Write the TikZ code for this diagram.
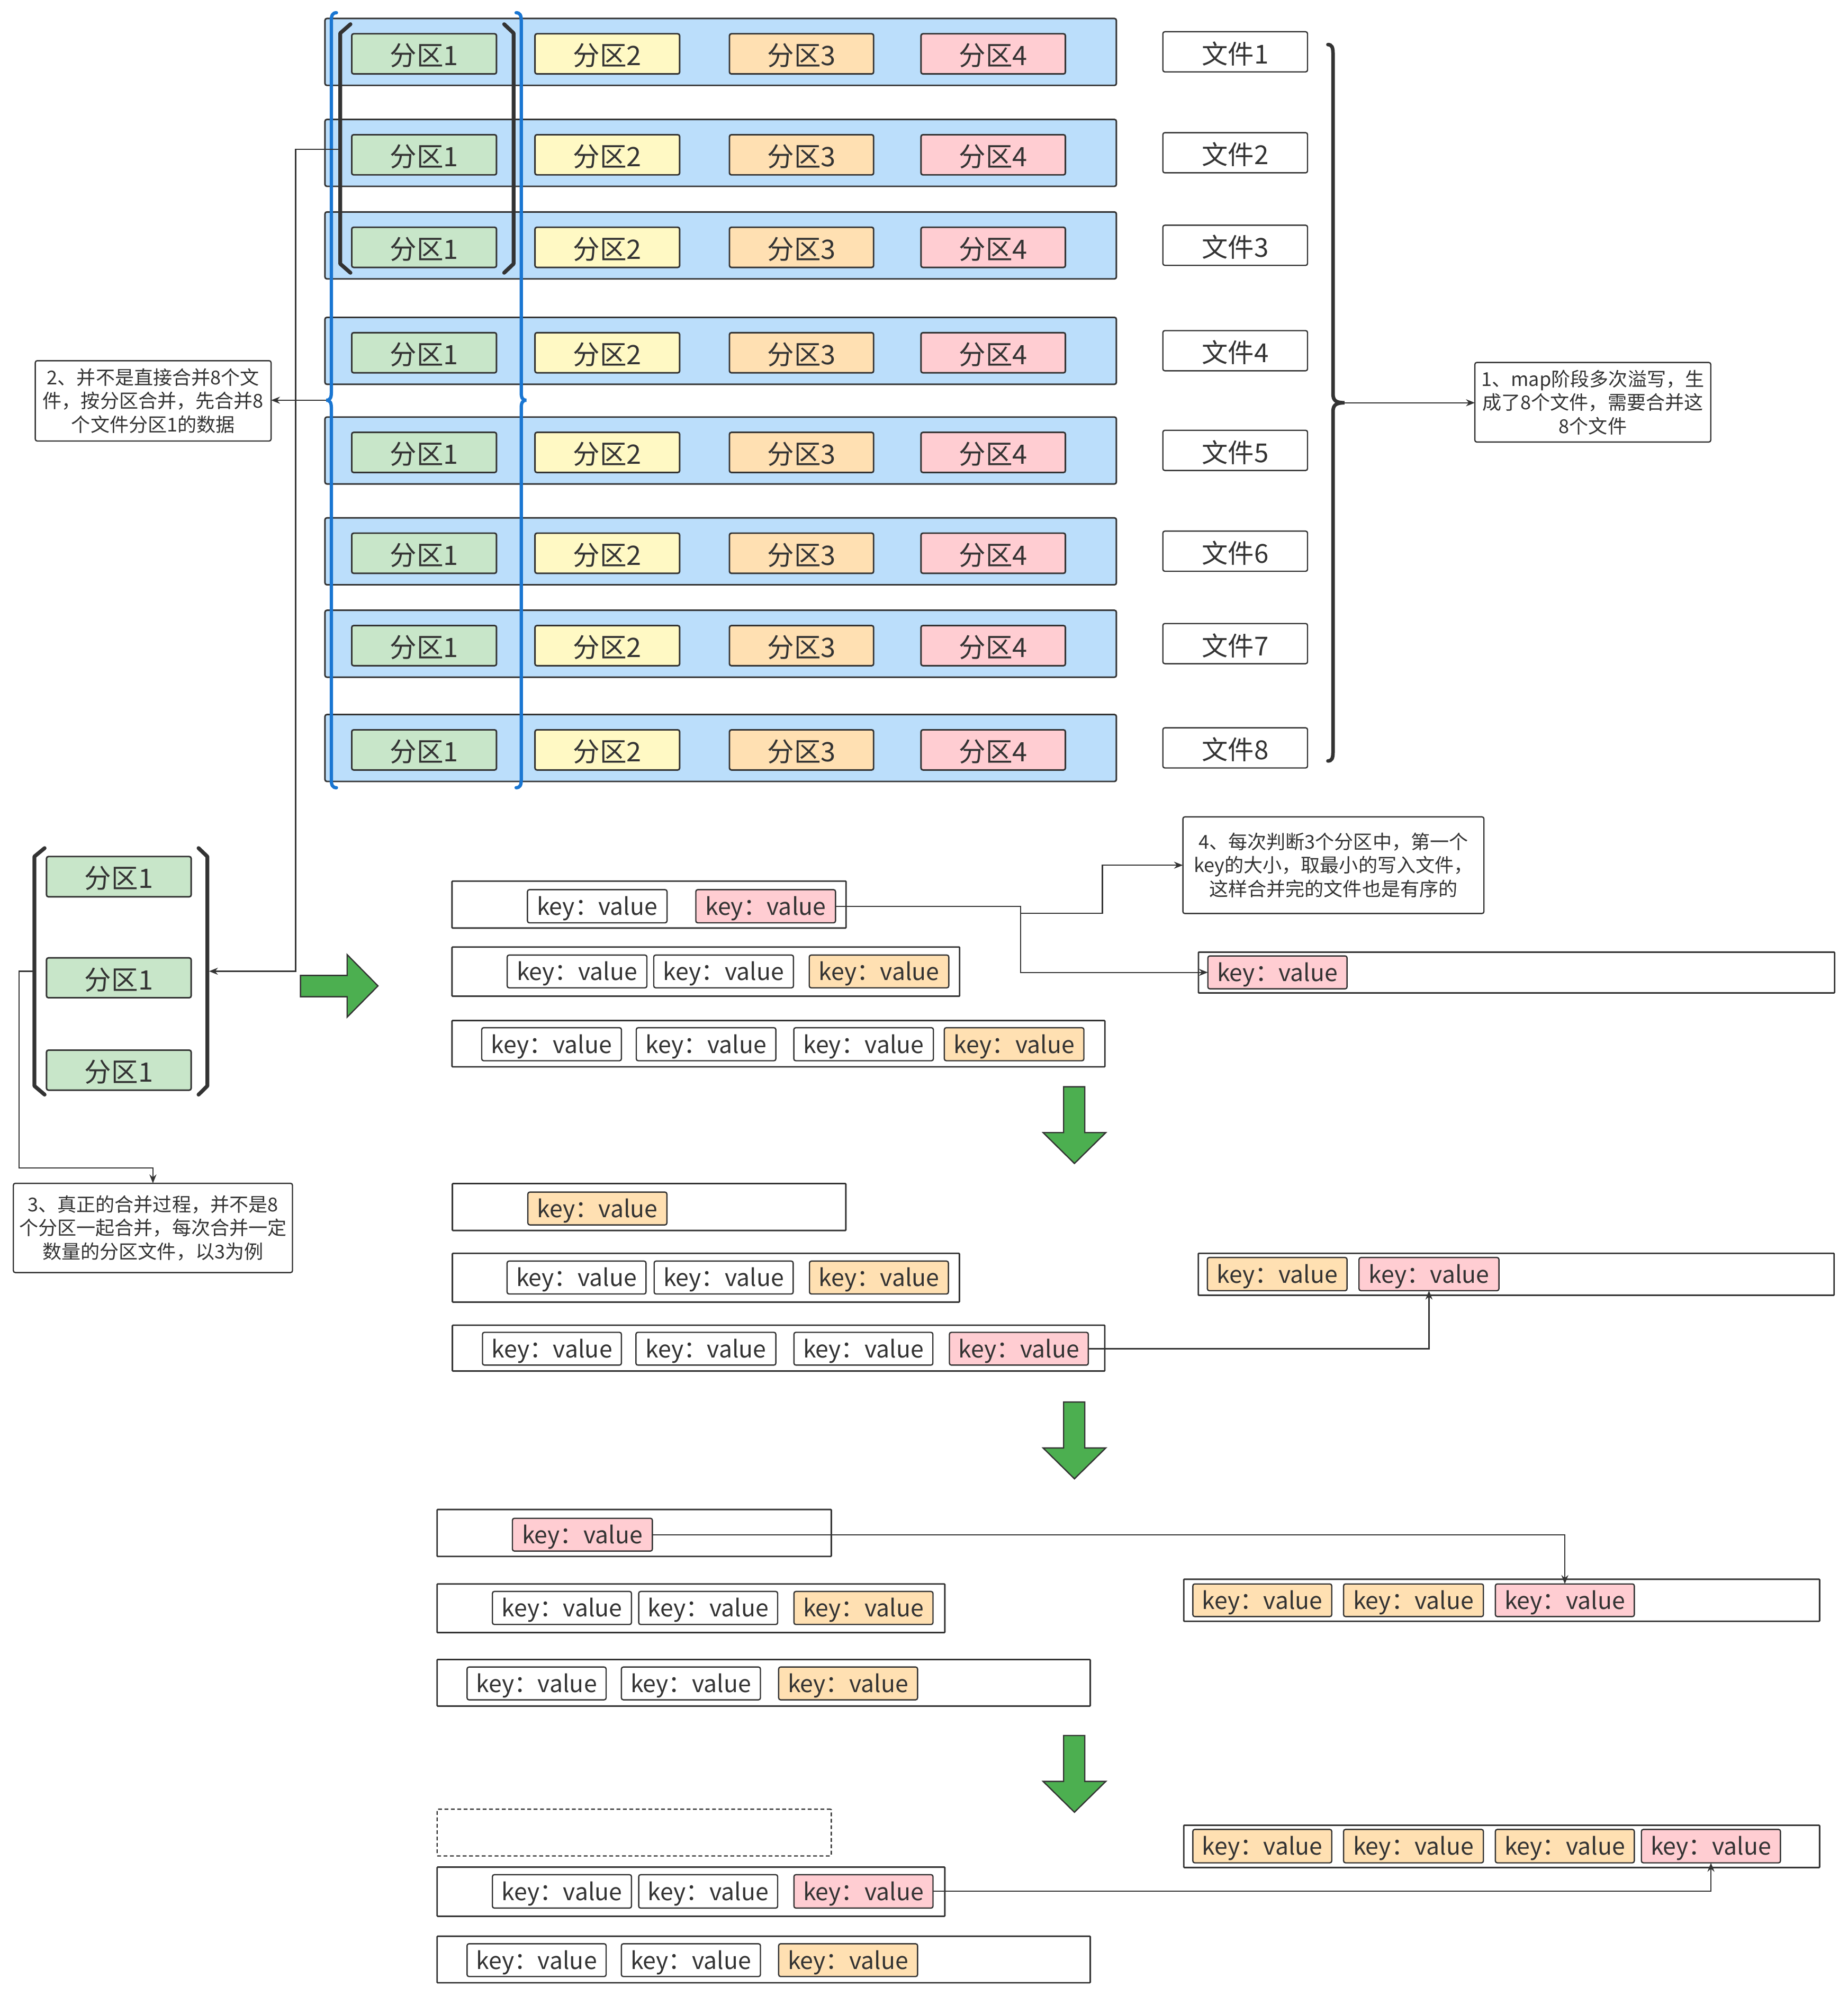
\documentclass[tikz,border=0pt]{standalone}
\usepackage{fontspec}
\setmainfont{Noto Sans CJK SC}
\usetikzlibrary{arrows.meta}
\definecolor{ink}{HTML}{333333}
\definecolor{rowblue}{HTML}{BBDEFB}
\definecolor{pgreen}{HTML}{C8E6C9}
\definecolor{pyellow}{HTML}{FFF9C4}
\definecolor{porange}{HTML}{FFE0B2}
\definecolor{ppink}{HTML}{FFCDD2}
\definecolor{bracecol}{HTML}{1976D2}
\definecolor{arrowgreen}{HTML}{4CAF50}
\newcommand\mybox[7]{\node[#2, minimum width={((#5)-(#3))*1pt}, minimum height={((#6)-(#4))*1pt}] (#1) at ({((#3)+(#5))/2},{((#4)+(#6))/2}) {#7};}
\newcommand\kv{key：value}
\tikzset{
  x=1pt, y=-1pt,
  base/.style={draw=ink, line width=1.2pt, rounded corners=1.5pt, inner sep=0pt, outer sep=0pt, text=ink},
  rowbox/.style={base, fill=rowblue},
  part/.style={base, font=\fontsize{21}{24}\selectfont, text height=20pt, text depth=1.6pt},
  pone/.style={part, fill=pgreen},
  ptwo/.style={part, fill=pyellow},
  pthree/.style={part, fill=porange},
  pfour/.style={part, fill=ppink},
  filebox/.style={base, fill=white, line width=1pt, font=\fontsize{20.5}{24}\selectfont, text height=20pt, text depth=1.4pt},
  note/.style={base, fill=white, line width=1pt, align=center, font=\fontsize{15}{18.5}\selectfont},
  outerrow/.style={base, fill=white, rounded corners=0.5pt},
  dashrow/.style={base, fill=white, rounded corners=0.5pt, line width=1pt, dash pattern=on 3pt off 2pt},
  kw/.style={base, fill=white, line width=1pt, font=\fontsize{18.5}{22}\selectfont, text height=16pt, text depth=2pt},
  kp/.style={kw, fill=ppink},
  ko/.style={kw, fill=porange},
  conn/.style={draw=ink, line width=0.9pt, -{Stealth[length=7pt,width=5.5pt]}},
  bracket/.style={draw=ink, line width=3pt, line join=round, line cap=round},
  bluebr/.style={draw=bracecol, line width=2.6pt, line cap=round},
  bigarrow/.style={fill=arrowgreen, draw=ink, line width=1pt, line join=miter},
}
\begin{document}
\begin{tikzpicture}
\useasboundingbox (0,0) rectangle (1450,1566);
\fill[white] (0,0) rectangle (1450,1566);

% ---- top rows ----
\foreach \i/\t in {1/14.5,2/93.7,3/166.3,4/249,5/327.2,6/406.3,7/478.8,8/560.6}{
  \mybox{row\i}{rowbox}{255}{\t}{876}{\t+52.5}{}
  \mybox{p1r\i}{pone}{276}{\t+12}{389.6}{\t+43.5}{分区1}
  \mybox{p2r\i}{ptwo}{419.8}{\t+12}{533.3}{\t+43.5}{分区2}
  \mybox{p3r\i}{pthree}{572.4}{\t+12}{685.5}{\t+43.5}{分区3}
  \mybox{p4r\i}{pfour}{722.7}{\t+12}{836}{\t+43.5}{分区4}
  \mybox{f\i}{filebox}{912.5}{\t+10.4}{1026}{\t+41.9}{文件\i}
}

% black bracket around first three 分区1
\draw[bracket] (275,19) -- (267,26) -- (267,207) -- (275,214);
\draw[bracket] (395.6,19) -- (403,26) -- (403,207) -- (395.6,214);
\coordinate (bkl) at (267,117);
\coordinate (v1) at (232,117);

% blue braces
\draw[bluebr] (264,10) .. controls (261,10) and (260,12) .. (260,16) -- (260,308) .. controls (260,312) and (259,314) .. (256,314) .. controls (259,314) and (260,316) .. (260,320) -- (260,612) .. controls (260,616) and (261,618) .. (264,618);
\draw[bluebr] (405,10) .. controls (408,10) and (409,12) .. (409,16) -- (409,308) .. controls (409,312) and (410,314) .. (413,314) .. controls (410,314) and (409,316) .. (409,320) -- (409,612) .. controls (409,616) and (408,618) .. (405,618);
\coordinate (lbt) at (256,314);

% big black brace
\draw[draw=ink, line width=2.8pt, line cap=round] (1042,35) .. controls (1045,35) and (1046,37) .. (1046,42) -- (1046,309) .. controls (1046,314) and (1048,316) .. (1055,316) .. controls (1048,316) and (1046,318) .. (1046,323) -- (1046,590) .. controls (1046,595) and (1045,597) .. (1042,597);
\coordinate (bbt) at (1055,316);

% notes
\mybox{n1}{note}{1157.3}{284.4}{1342.4}{346.8}{1、map阶段多次溢写，生\\成了8个文件，需要合并这\\8个文件}
\mybox{n2}{note}{27.7}{283}{212.7}{346}{2、并不是直接合并8个文\\件，按分区合并，先合并8\\个文件分区1的数据}
\mybox{n3}{note}{10.5}{928.4}{229.5}{998.4}{3、真正的合并过程，并不是8\\个分区一起合并，每次合并一定\\数量的分区文件，以3为例}
\mybox{n4}{note}{928.2}{640.9}{1164.4}{716.7}{4、每次判断3个分区中，第一个\\key的大小，取最小的写入文件，\\这样合并完的文件也是有序的}

\draw[conn] (bbt) -- (n1.west |- bbt);
\draw[conn] (lbt) -- (n2.east |- lbt);

% lower-left group
\mybox{lg1}{pone}{36.5}{672}{150}{703.6}{分区1}
\mybox{lg2}{pone}{36.5}{751.5}{150}{782.8}{分区1}
\mybox{lg3}{pone}{36.5}{823.9}{150}{855.3}{分区1}
\draw[bracket] (35,665.4) -- (27,672) -- (27,852) -- (35,858.8);
\draw[bracket] (155.8,665.4) -- (162.7,672) -- (162.7,852) -- (155.8,858.8);
\coordinate (lgr) at (164,762);
\coordinate (lgl) at (27,762);
\coordinate (v2) at (15,762);
\coordinate (v3) at (15,916.3);

\draw[conn] (bkl) -- (v1) |- (lgr);
\draw[conn] (lgl) -- (v2) -- (v3) -| (n3.north);

% green arrows
\draw[bigarrow] (235.8,765.3) -- (272.4,765.3) -- (272.4,749) -- (296.6,773.5) -- (272.4,798) -- (272.4,782) -- (235.8,782) -- cycle;
\foreach \y in {852.6,1100,1361.6}{
  \draw[bigarrow] (834.6,\y) -- (851.2,\y) -- (851.2,\y+36) -- (867.7,\y+36) -- (843.1,\y+60.2) -- (818.5,\y+36) -- (834.6,\y+36) -- cycle;
}

% ---- group 1 ----
\mybox{a1}{outerrow}{354.7}{691.3}{663.9}{728.1}{}
\mybox{a1w}{kw}{413.9}{698}{523.4}{724}{\kv}
\mybox{a1p}{kp}{546}{698}{655.6}{724}{\kv}
\mybox{b1}{outerrow}{354.7}{743}{753}{781.6}{}
\mybox{b1a}{kw}{398}{749.3}{507.6}{775}{\kv}
\mybox{b1b}{kw}{513}{749.3}{622.6}{775}{\kv}
\mybox{b1c}{ko}{635}{749.3}{744.5}{775}{\kv}
\mybox{c1}{outerrow}{354.7}{800.7}{867}{837}{}
\mybox{c1a}{kw}{378}{806.3}{487.6}{832.2}{\kv}
\mybox{c1b}{kw}{499.3}{806.3}{608.8}{832.2}{\kv}
\mybox{c1c}{kw}{622.9}{806.3}{732.4}{832.2}{\kv}
\mybox{c1d}{ko}{741}{806.3}{850.5}{832.2}{\kv}
\mybox{r1}{outerrow}{940.4}{747}{1439.6}{779}{}
\mybox{r1p}{kp}{947.8}{750}{1057}{775.8}{\kv}
\coordinate (j1) at (801,737);
\coordinate (j1b) at (801,716.5);
\coordinate (j1c) at (865,716.5);
\draw[conn] (a1p.east) -| (j1) |- (r1p.west);
\draw[conn] (j1b) -- (j1c) |- (n4.west);

% ---- group 2 ----
\mybox{a2}{outerrow}{355}{928.6}{663.7}{965.4}{}
\mybox{a2o}{ko}{414.2}{935.3}{523.3}{961}{\kv}
\mybox{b2}{outerrow}{355}{983.3}{752.8}{1021.6}{}
\mybox{b2a}{kw}{397.9}{989.4}{506.9}{1015.2}{\kv}
\mybox{b2b}{kw}{513.3}{989.4}{622.4}{1015.2}{\kv}
\mybox{b2c}{ko}{635.2}{989.4}{744.2}{1015.2}{\kv}
\mybox{c2}{outerrow}{355}{1039.7}{866.9}{1075.7}{}
\mybox{c2a}{kw}{378.6}{1045.3}{487.6}{1071}{\kv}
\mybox{c2b}{kw}{499}{1045.3}{608.8}{1071}{\kv}
\mybox{c2c}{kw}{623}{1045.3}{732}{1071}{\kv}
\mybox{c2p}{kp}{745}{1045.3}{854}{1071}{\kv}
\mybox{r2}{outerrow}{940.3}{983.3}{1439.2}{1016.2}{}
\mybox{r2o}{ko}{947.4}{986.6}{1057}{1012.6}{\kv}
\mybox{r2p}{kp}{1066.4}{986.6}{1176.2}{1012.6}{\kv}
\draw[conn] (c2p.east) -| (r2p.south);

% ---- group 3 ----
\mybox{a3}{outerrow}{343}{1184.3}{652.3}{1221.1}{}
\mybox{a3p}{kp}{402.1}{1191.2}{511.9}{1216.9}{\kv}
\mybox{b3}{outerrow}{343}{1242.7}{741.4}{1280.9}{}
\mybox{b3a}{kw}{386.4}{1248.6}{495.5}{1274.5}{\kv}
\mybox{b3b}{kw}{501.2}{1248.6}{610.2}{1274.5}{\kv}
\mybox{b3c}{ko}{623}{1248.6}{732.1}{1274.5}{\kv}
\mybox{c3}{outerrow}{343}{1302}{855.5}{1338.5}{}
\mybox{c3a}{kw}{366.5}{1307.9}{475.6}{1333.6}{\kv}
\mybox{c3b}{kw}{487.6}{1307.9}{596.7}{1333.6}{\kv}
\mybox{c3c}{ko}{611}{1307.9}{720}{1333.6}{\kv}
\mybox{r3}{outerrow}{928.9}{1239}{1427.8}{1272}{}
\mybox{r3a}{ko}{936}{1242.7}{1045}{1268.3}{\kv}
\mybox{r3b}{ko}{1054.3}{1242.7}{1164}{1268.3}{\kv}
\mybox{r3p}{kp}{1173.4}{1242.7}{1282.4}{1268.3}{\kv}
\draw[conn] (a3p.east) -| (r3p.north);

% ---- group 4 ----
\mybox{a4}{dashrow}{343}{1419.4}{652.3}{1456.1}{}
\mybox{b4}{outerrow}{343}{1464.9}{741.4}{1503.4}{}
\mybox{b4a}{kw}{386.4}{1470.8}{495.5}{1497}{\kv}
\mybox{b4b}{kw}{501.2}{1470.8}{610.2}{1497}{\kv}
\mybox{b4p}{kp}{623}{1470.8}{732.1}{1497}{\kv}
\mybox{c4}{outerrow}{343}{1519.1}{855.5}{1555.6}{}
\mybox{c4a}{kw}{366.5}{1525}{475.6}{1550.7}{\kv}
\mybox{c4b}{kw}{487.6}{1525}{596.7}{1550.7}{\kv}
\mybox{c4c}{ko}{611}{1525}{720}{1550.7}{\kv}
\mybox{r4}{outerrow}{928.9}{1432}{1427.8}{1465.2}{}
\mybox{r4a}{ko}{936}{1435.3}{1045}{1461.5}{\kv}
\mybox{r4b}{ko}{1054.3}{1435.3}{1164}{1461.5}{\kv}
\mybox{r4c}{ko}{1173.4}{1435.3}{1282.4}{1461.5}{\kv}
\mybox{r4p}{kp}{1288}{1435.3}{1397.1}{1461.5}{\kv}
\draw[conn] (b4p.east) -| (r4p.south);
\end{tikzpicture}
\end{document}
